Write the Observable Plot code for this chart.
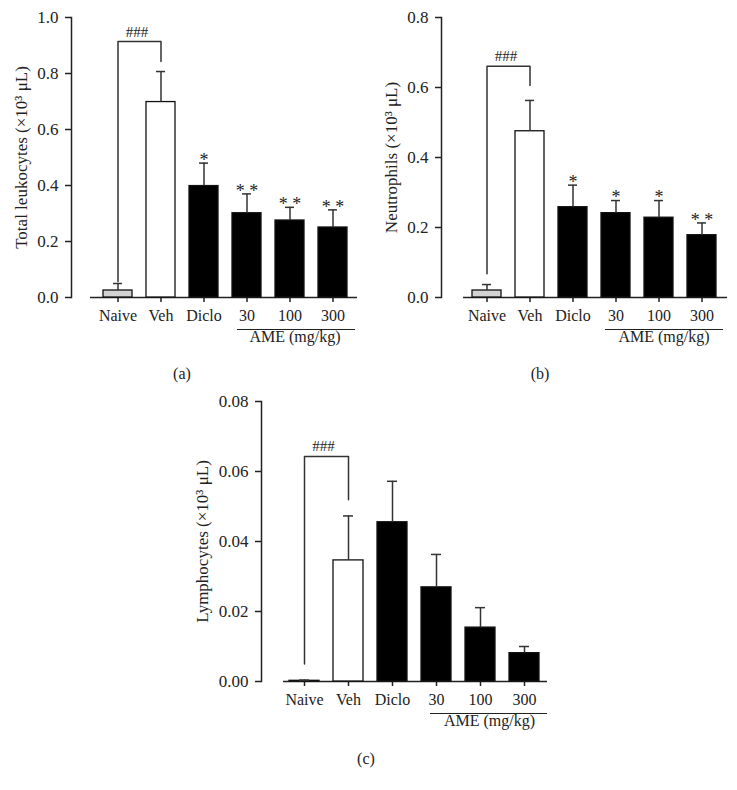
<!DOCTYPE html>
<html>
<head>
<meta charset="utf-8">
<script src="https://cdn.jsdelivr.net/npm/d3@7"></script>
<script src="https://cdn.jsdelivr.net/npm/@observablehq/plot@0.6"></script>
<style>
  html, body { margin: 0; padding: 0; background: #fff; }
  #fig { position: relative; width: 737px; height: 790px; font-family: 'Liberation Serif', 'Times New Roman', serif; color: #222; }
  .panel { position: absolute; }
  .cap { position: absolute; font-size: 16px; transform: translate(-50%, -50%); white-space: nowrap; }
</style>
</head>
<body>
<div id="fig">
  <div id="pa" class="panel" style="left:0px;top:0px"></div>
  <div id="pb" class="panel" style="left:370px;top:0px"></div>
  <div id="pc" class="panel" style="left:190px;top:384px"></div>
  <div id="capA" class="cap" style="left:182px;top:374px"></div>
  <div id="capB" class="cap" style="left:540px;top:374px"></div>
  <div id="capC" class="cap" style="left:366px;top:759px"></div>
</div>
<script>
// ---------- data ----------
const groups = ["Naive", "Veh", "Diclo", "30", "100", "300"];
const doseGroup = {label: "AME (mg/kg)", from: "30", to: "300"};
const panelLabels = ["(a)", "(b)", "(c)"];
const bracketLabel = "###";

const leukocyteMean = [0.025, 0.698, 0.398, 0.301, 0.275, 0.250];
const leukocyteSem  = [0.025, 0.109, 0.082, 0.069, 0.047, 0.063];
const leukocyteStars = ["", "", "*", "* *", "* *", "* *"];
const leukocyteBracket = [0.057, 0.914, 0.843]; // left leg end, top, right leg end
const leukocyteTicks = [0, 0.2, 0.4, 0.6, 0.8, 1.0];

const neutrophilMean = [0.020, 0.475, 0.258, 0.241, 0.228, 0.178];
const neutrophilSem  = [0.017, 0.088, 0.063, 0.036, 0.049, 0.035];
const neutrophilStars = ["", "", "*", "*", "*", "* *"];
const neutrophilBracket = [0.068, 0.661, 0.606];
const neutrophilTicks = [0, 0.2, 0.4, 0.6, 0.8];

const lymphocyteMean = [0.0002, 0.0346, 0.0455, 0.0269, 0.0154, 0.0081];
const lymphocyteSem  = [0.0002, 0.0127, 0.0117, 0.0094, 0.0057, 0.0019];
const lymphocyteStars = ["", "", "", "", "", ""];
const lymphocyteBracket = [0.0050, 0.0643, 0.0519];
const lymphocyteTicks = [0, 0.02, 0.04, 0.06, 0.08];

// ---------- styles ----------
const FONT = "'Liberation Serif', 'Times New Roman', serif";
const INK = "#222";
const fillOf = g => g === "Naive" ? "#d3d3d3" : g === "Veh" ? "#ffffff" : "#000000";

function drawPanel(cfg) {
  const rows = groups.map((g, i) => ({g, mean: cfg.mean[i], top: cfg.mean[i] + cfg.sem[i], star: cfg.stars[i]}));
  const br = [
    {g: groups[0], v: cfg.bracket[0]},
    {g: groups[0], v: cfg.bracket[1]},
    {g: groups[1], v: cfg.bracket[1]},
    {g: groups[1], v: cfg.bracket[2]}
  ];
  return Plot.plot({
    width: cfg.width,
    height: 360,
    marginLeft: 71,
    marginRight: cfg.width - 357,
    marginTop: 17,
    marginBottom: 63,
    style: {fontFamily: FONT, fontSize: "16px", color: INK, background: "transparent", overflow: "visible"},
    x: {domain: groups, range: cfg.range, paddingInner: 0.32, paddingOuter: 0.16, label: null},
    y: {domain: [0, cfg.ticks[cfg.ticks.length - 1]], label: null},
    color: {type: "identity"},
    marks: [
      Plot.frame({anchor: "left", stroke: INK, strokeWidth: 1.5}),
      Plot.axisY({
        ticks: cfg.ticks, tickFormat: d => d.toFixed(cfg.digits),
        tickSize: 6, tickPadding: 7, strokeWidth: 1.5, fontSize: 17,
        label: cfg.label, labelAnchor: "center", labelOffset: cfg.labelOffset, labelArrow: "none"
      }),
      Plot.axisX({tickSize: 5, tickPadding: 7, strokeWidth: 1.5, fontSize: 16, label: null}),
      Plot.ruleY([0], {insetLeft: cfg.axisInset, stroke: INK, strokeWidth: 1.5}),
      Plot.barY(rows, {x: "g", y: "mean", fill: d => fillOf(d.g), stroke: "#111", strokeWidth: 1.3}),
      Plot.ruleX(rows, {x: "g", y1: "mean", y2: "top", stroke: "#333", strokeWidth: 1.5}),
      Plot.tickY(rows, {x: "g", y: "top", stroke: "#333", strokeWidth: 1.5, insetLeft: 10, insetRight: 10}),
      Plot.line(br, {x: "g", y: "v", stroke: "#333", strokeWidth: 1.5}),
      Plot.text([bracketLabel], {x: () => groups[0], y: () => cfg.bracket[1], text: d => d, dx: 19, dy: -5, lineAnchor: "bottom", fontSize: 15, fill: "#222"}),
      Plot.text(rows, {x: "g", y: "top", text: "star", dy: -3, lineAnchor: "middle", fontSize: 18, fill: "#222"}),
      Plot.ruleY([doseGroup], {x1: "from", x2: "to", y: () => 0, dy: 32, insetLeft: cfg.ameL, insetRight: cfg.ameR, stroke: INK, strokeWidth: 1.2}),
      Plot.text([doseGroup], {x: () => "100", frameAnchor: "bottom", text: "label", dy: 44, dx: cfg.ameDx, fontSize: 16, fill: INK})
    ]
  });
}

document.getElementById("pa").append(drawPanel({
  width: 370, mean: leukocyteMean, sem: leukocyteSem, stars: leukocyteStars, bracket: leukocyteBracket,
  ticks: leukocyteTicks, digits: 1, label: "Total leukocytes (×10³ μL)", labelOffset: 57,
  range: [95, 356], axisInset: 19, ameL: 5, ameR: -8, ameDx: 5
}));
document.getElementById("pb").append(drawPanel({
  width: 367, mean: neutrophilMean, sem: neutrophilSem, stars: neutrophilStars, bracket: neutrophilBracket,
  ticks: neutrophilTicks, digits: 1, label: "Neutrophils (×10³ μL)", labelOffset: 57,
  range: [93, 356], axisInset: 22, ameL: 4, ameR: -7, ameDx: 5
}));
document.getElementById("pc").append(drawPanel({
  width: 370, mean: lymphocyteMean, sem: lymphocyteSem, stars: lymphocyteStars, bracket: lymphocyteBracket,
  ticks: lymphocyteTicks, digits: 2, label: "Lymphocytes (×10³ μL)", labelOffset: 66,
  range: [90, 357], axisInset: 22, ameL: 9, ameR: -8, ameDx: 9
}));

document.getElementById("capA").textContent = panelLabels[0];
document.getElementById("capB").textContent = panelLabels[1];
document.getElementById("capC").textContent = panelLabels[2];
</script>
</body>
</html>
